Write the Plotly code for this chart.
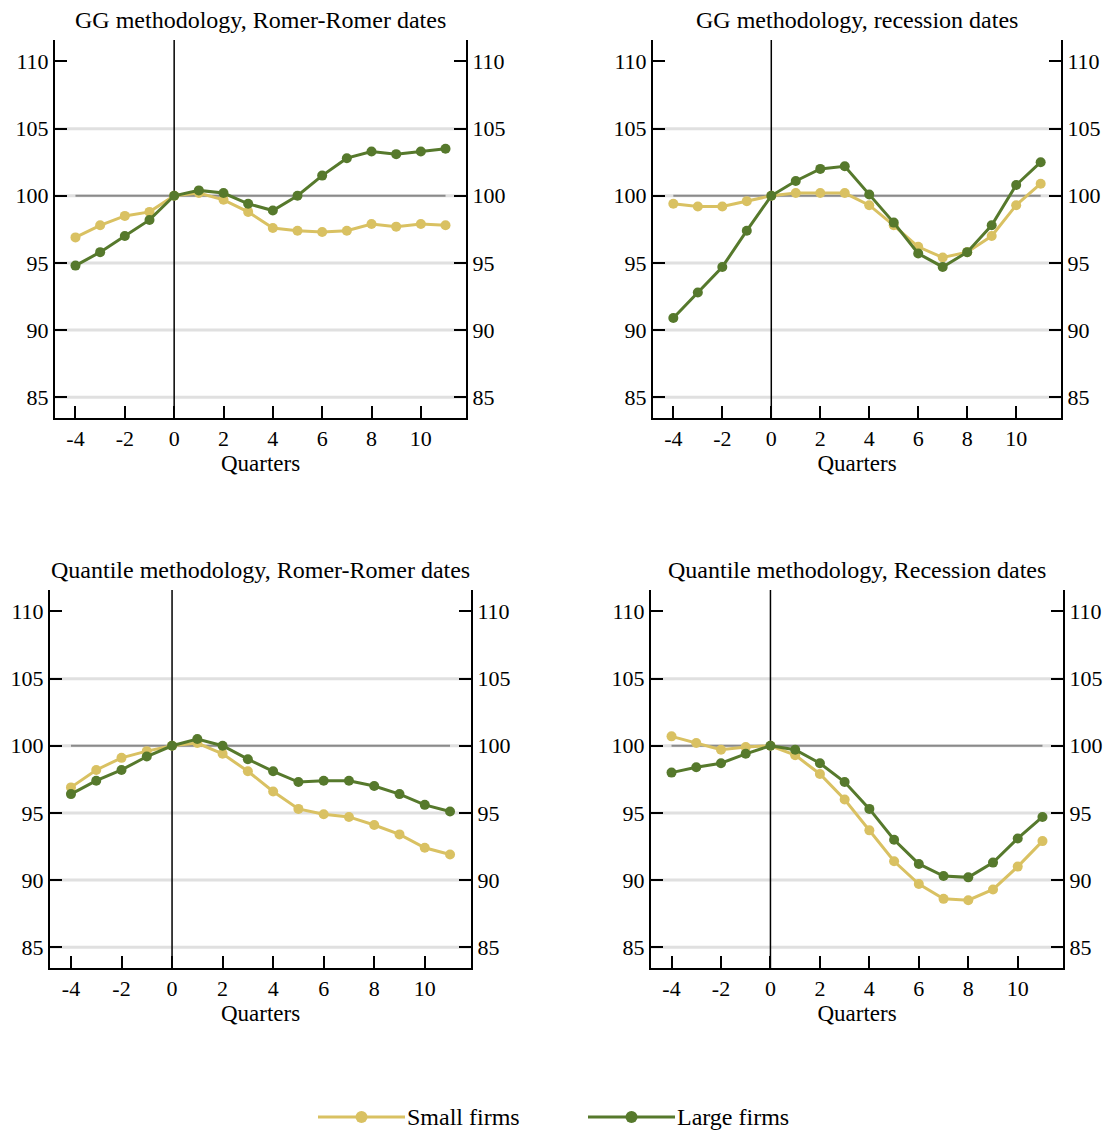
import plotly.graph_objects as go

# Event-time axis (quarters relative to the shock)
quarters = list(range(-4, 12))

# GG methodology, Romer-Romer dates
gg_rr_small = [96.9, 97.8, 98.5, 98.8, 100.0, 100.2, 99.7, 98.8, 97.6, 97.4, 97.3, 97.4, 97.9, 97.7, 97.9, 97.8]
gg_rr_large = [94.8, 95.8, 97.0, 98.2, 100.0, 100.4, 100.2, 99.4, 98.9, 100.0, 101.5, 102.8, 103.3, 103.1, 103.3, 103.5]

# GG methodology, recession dates
gg_rec_small = [99.4, 99.2, 99.2, 99.6, 100.0, 100.2, 100.2, 100.2, 99.3, 97.8, 96.2, 95.4, 95.8, 97.0, 99.3, 100.9]
gg_rec_large = [90.9, 92.8, 94.7, 97.4, 100.0, 101.1, 102.0, 102.2, 100.1, 98.0, 95.7, 94.7, 95.8, 97.8, 100.8, 102.5]

# Quantile methodology, Romer-Romer dates
q_rr_small = [96.9, 98.2, 99.1, 99.6, 100.0, 100.2, 99.4, 98.1, 96.6, 95.3, 94.9, 94.7, 94.1, 93.4, 92.4, 91.9]
q_rr_large = [96.4, 97.4, 98.2, 99.2, 100.0, 100.5, 100.0, 99.0, 98.1, 97.3, 97.4, 97.4, 97.0, 96.4, 95.6, 95.1]

# Quantile methodology, Recession dates
q_rec_small = [100.7, 100.2, 99.7, 99.9, 100.0, 99.3, 97.9, 96.0, 93.7, 91.4, 89.7, 88.6, 88.5, 89.3, 91.0, 92.9]
q_rec_large = [98.0, 98.4, 98.7, 99.4, 100.0, 99.7, 98.7, 97.3, 95.3, 93.0, 91.2, 90.3, 90.2, 91.3, 93.1, 94.7]

panel_titles = [
    "GG methodology, Romer-Romer dates",
    "GG methodology, recession dates",
    "Quantile methodology, Romer-Romer dates",
    "Quantile methodology, Recession dates",
]
x_tickvals = [-4, -2, 0, 2, 4, 6, 8, 10]
x_ticktext = ["-4", "-2", "0", "2", "4", "6", "8", "10"]
y_tickvals = [85, 90, 95, 100, 105, 110]
grid_vals = [85, 90, 95, 100, 105]

series_names = ["Small firms", "Large firms"]
SMALL_COLOR = "#D9C162"
LARGE_COLOR = "#56792C"

FONT = "Liberation Serif"
TICK_SIZE = 22
W, H = 1110, 1134

# Pixel boxes of each panel: (left, right, top, bottom)
boxes = [
    (55, 466, 40, 418),
    (653, 1061, 40, 418),
    (50, 471, 590, 968),
    (651, 1063, 590, 968),
]
panels = [
    (gg_rr_small, gg_rr_large),
    (gg_rec_small, gg_rec_large),
    (q_rr_small, q_rr_large),
    (q_rec_small, q_rec_large),
]

XR = [-4.83, 11.83]
YR = [83.45, 111.6]

tick_font = dict(family=FONT, size=TICK_SIZE, color="black")

fig = go.Figure()
layout = {}
shapes = []
annotations = []

for i, ((l, r, t, b), (small, large), title) in enumerate(zip(boxes, panels, panel_titles)):
    xi = i + 1
    yi = i + 1
    yri = i + 5
    xname = "xaxis" if xi == 1 else f"xaxis{xi}"
    yname = "yaxis" if yi == 1 else f"yaxis{yi}"
    xref = "x" if xi == 1 else f"x{xi}"
    yref = "y" if yi == 1 else f"y{yi}"
    yref_r = f"y{yri}"
    xd = [l / W, r / W]
    yd = [(H - b) / H, (H - t) / H]

    layout[xname] = dict(
        domain=xd, range=XR, anchor=yref,
        tickvals=x_tickvals, ticktext=x_ticktext,
        ticks="inside", ticklen=12, tickwidth=2, tickcolor="black",
        showline=True, linecolor="black", linewidth=2,
        showgrid=False, zeroline=False,
        tickfont=tick_font,
        title=dict(text="Quarters", font=dict(family=FONT, size=23, color="black"), standoff=0),
    )
    common_y = dict(
        range=YR, anchor=xref,
        tickvals=y_tickvals, ticks="inside", ticklen=12, tickwidth=2, tickcolor="black",
        showline=True, linecolor="black", linewidth=2,
        showgrid=False, zeroline=False,
        tickfont=tick_font,
    )
    layout[yname] = dict(domain=yd, **common_y)
    layout[f"yaxis{yri}"] = dict(overlaying=yref, side="right", **common_y)

    # light horizontal grid lines
    for gv in grid_vals:
        shapes.append(dict(type="line", xref=f"{xref} domain", yref=yref,
                           x0=0, x1=1, y0=gv, y1=gv, layer="below",
                           line=dict(color="#E0E0E0", width=3)))
    # reference level at 100
    shapes.append(dict(type="line", xref=xref, yref=yref,
                       x0=quarters[0], x1=quarters[-1], y0=100, y1=100, layer="below",
                       line=dict(color="#8A8A8A", width=2)))
    # shock quarter marker
    shapes.append(dict(type="line", xref=xref, yref=f"{yref} domain",
                       x0=0, x1=0, y0=0, y1=1, layer="below",
                       line=dict(color="black", width=1.5)))

    for vals, color, name in ((small, SMALL_COLOR, series_names[0]),
                              (large, LARGE_COLOR, series_names[1])):
        fig.add_trace(go.Scatter(
            x=quarters, y=vals, mode="lines+markers", name=name,
            xaxis=xref, yaxis=yref, showlegend=False,
            line=dict(color=color, width=3),
            marker=dict(color=color, size=10),
        ))
    # transparent copy so the right-hand axis is rendered with its labels
    fig.add_trace(go.Scatter(
        x=quarters, y=large, mode="markers", xaxis=xref, yaxis=yref_r,
        showlegend=False, hoverinfo="skip", marker=dict(opacity=0),
    ))

    annotations.append(dict(
        text=title, xref="paper", yref="paper",
        x=(xd[0] + xd[1]) / 2, y=(H - (t - 20)) / H,
        xanchor="center", yanchor="middle", showarrow=False,
        font=dict(family=FONT, size=24, color="black"),
    ))

# Legend drawn along the bottom edge
legend_items = [
    (series_names[0], SMALL_COLOR, 318, 405),
    (series_names[1], LARGE_COLOR, 588, 675),
]
ly = (H - 1117) / H
for name, color, x0, x1 in legend_items:
    shapes.append(dict(type="line", xref="paper", yref="paper",
                       x0=x0 / W, x1=x1 / W, y0=ly, y1=ly,
                       line=dict(color=color, width=3)))
    cx = (x0 + x1) / 2 / W
    shapes.append(dict(type="circle", xref="paper", yref="paper",
                       xsizemode="pixel", ysizemode="pixel",
                       xanchor=cx, yanchor=ly, x0=-6, x1=6, y0=-6, y1=6,
                       fillcolor=color, line=dict(color=color, width=0)))
    annotations.append(dict(
        text=name, xref="paper", yref="paper", x=x1 / W, y=ly,
        xanchor="left", yanchor="middle", showarrow=False,
        font=dict(family=FONT, size=24, color="black"),
    ))

fig.update_layout(
    width=W, height=H,
    margin=dict(l=0, r=0, t=0, b=0),
    paper_bgcolor="white", plot_bgcolor="white",
    shapes=shapes, annotations=annotations,
    showlegend=False,
    **layout,
)

fig.write_html("out.html")
